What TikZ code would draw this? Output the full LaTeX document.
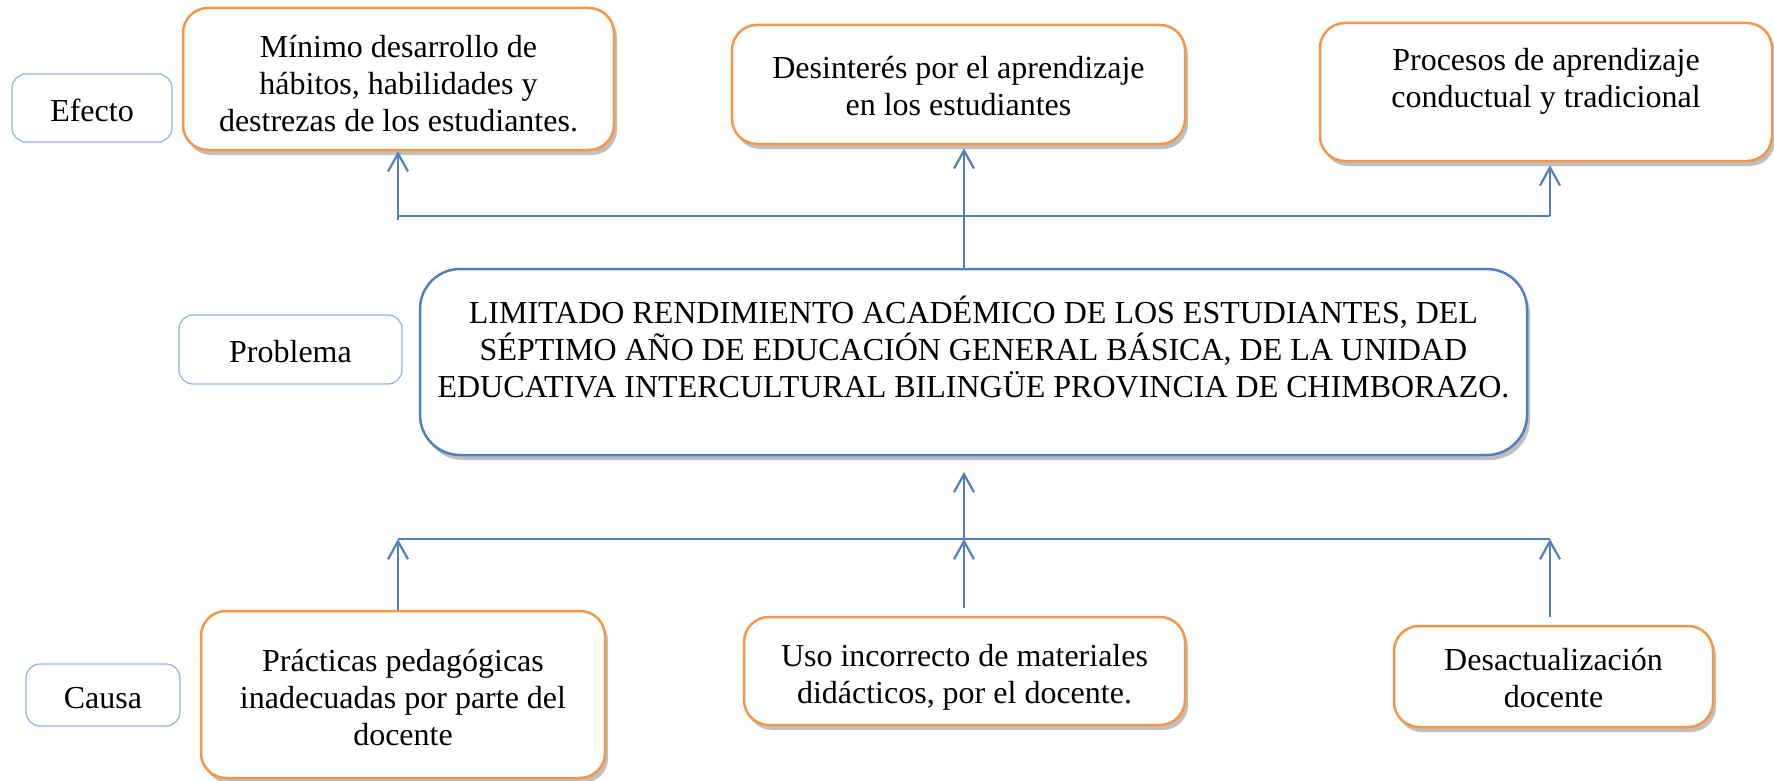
\documentclass[tikz,border=0pt]{standalone}
\usepackage{fontspec}
\setmainfont{Liberation Serif}
\usetikzlibrary{arrows.meta,shadows}
\definecolor{orangeB}{HTML}{F79646}
\definecolor{blueL}{HTML}{4F81BD}
\definecolor{blueLab}{HTML}{8EB4E3}
\tikzset{
  shad/.style={drop shadow={shadow xshift=3pt,shadow yshift=-5pt,fill=black,opacity=0.25}},
  effbox/.style={draw=orangeB, line width=2.5pt, rounded corners=25pt, fill=white, shad},
  probbox/.style={draw=blueL, line width=2.5pt, rounded corners=40pt, fill=white, shad},
  labbox/.style={draw=blueLab, line width=1.2pt, rounded corners=14pt, fill=white},
  txt/.style={font=\fontsize{32}{37}\selectfont, align=center, inner sep=0pt},
  conn/.style={draw=blueL, line width=2.2pt},
  arr/.style={conn, -{Straight Barb[length=18pt,width=20pt]}}
}
\begin{document}
\begin{tikzpicture}[x=1pt,y=-1pt]
\useasboundingbox (0,0) rectangle (1774,781);
% boxes
\node[labbox, minimum width=160pt, minimum height=68pt] (efecto) at (92,108) {};
\node[txt] (tefecto) at (92,110) {Efecto};
\node[effbox, minimum width=431pt, minimum height=142pt] (minimo) at (398.5,79) {};
\node[txt] (tminimo) at (398.5,84) {Mínimo desarrollo de\\hábitos, habilidades y\\destrezas de los estudiantes.};
\node[effbox, minimum width=453pt, minimum height=119pt] (desint) at (958.5,84.5) {};
\node[txt] (tdesint) at (958.5,86) {Desinterés por el aprendizaje\\en los estudiantes};
\node[effbox, minimum width=452pt, minimum height=138pt] (procesos) at (1546,92) {};
\node[txt] (tprocesos) at (1546,81) {Procesos de aprendizaje\\conductual y tradicional};

\node[labbox, minimum width=223pt, minimum height=69pt] (problema) at (290.5,349.5) {};
\node[txt] (tproblema) at (290.5,352) {Problema};
\node[probbox, minimum width=1107pt, minimum height=186pt] (problem) at (973.5,362) {};
\node[txt] (tproblem) at (973.5,347) {LIMITADO RENDIMIENTO ACADÉMICO DE LOS ESTUDIANTES, DEL\\SÉPTIMO AÑO DE EDUCACIÓN GENERAL BÁSICA, DE LA UNIDAD\\EDUCATIVA INTERCULTURAL BILINGÜE PROVINCIA DE CHIMBORAZO.};

\node[labbox, minimum width=154pt, minimum height=62pt] (causa) at (103,695) {};
\node[txt] (tcausa) at (103,698) {Causa};
\node[effbox, minimum width=404pt, minimum height=167pt] (practicas) at (403,694.5) {};
\node[txt] (tpracticas) at (403,698) {Prácticas pedagógicas\\inadecuadas por parte del\\docente};
\node[effbox, minimum width=441pt, minimum height=108pt] (uso) at (964.5,671) {};
\node[txt] (tuso) at (964.5,677) {Uso incorrecto de materiales\\didácticos, por el docente.};
\node[effbox, minimum width=319pt, minimum height=101pt] (desact) at (1553.5,676.5) {};
\node[txt] (tdesact) at (1553.5,678) {Desactualización\\docente};

% top connectors
\coordinate (tl) at (398,216);
\coordinate (tm) at (964,216);
\coordinate (tr) at (1550,216);
\coordinate (tlb) at (398,220);
\draw[conn] (tl) -- (tr);
\draw[arr] (tlb) -- (minimo.south -| tl);
\draw[arr] (problem.north -| tm) -- ([yshift=-3pt]desint.south -| tm);
\draw[arr] (tr) -- ([yshift=-3pt]procesos.south -| tr);

% bottom connectors
\coordinate (bl) at (398,539);
\coordinate (bm) at (964,539);
\coordinate (br) at (1550,539);
\coordinate (pm) at (964,472);
\draw[conn] (bl) -- (br);
\draw[arr] (bm) -- (pm);
\draw[arr] (practicas.north -| bl) -- (bl);
\draw[arr] ([yshift=8pt]uso.north -| bm) -- (bm);
\draw[arr] ([yshift=8pt]desact.north -| br) -- (br);
\end{tikzpicture}
\end{document}
